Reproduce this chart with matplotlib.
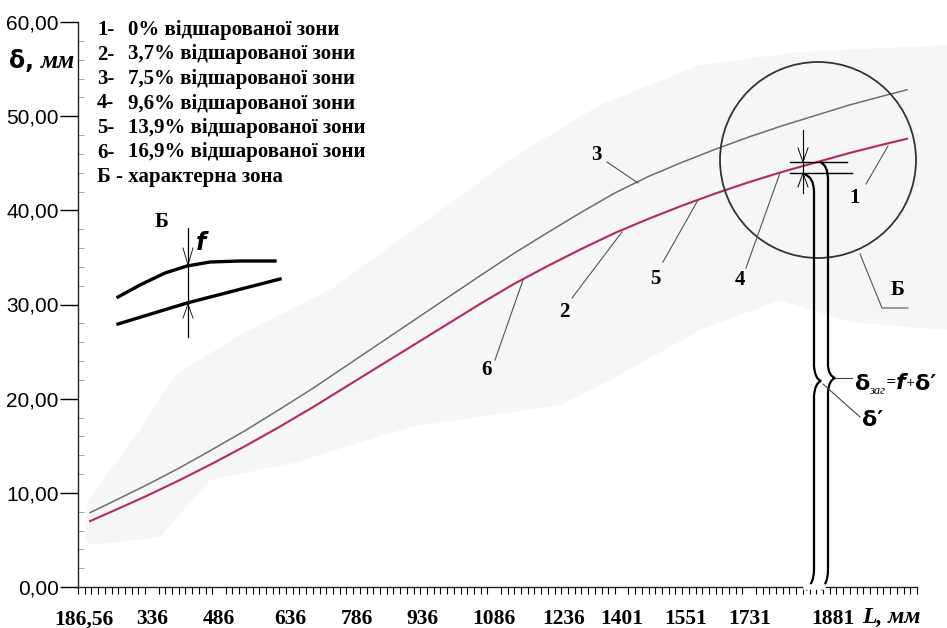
import matplotlib
matplotlib.use('Agg')
import matplotlib.pyplot as plt
from matplotlib.lines import Line2D
from matplotlib.patches import Polygon, Ellipse, PathPatch
from matplotlib.path import Path
from matplotlib.transforms import Affine2D

W, H = 947, 628

# categorical L axis (Excel style): label text and the category index it sits on
x_labels = ['186,56', '336', '486', '636', '786', '936', '1086', '1236',
            '1401', '1551', '1731', '1881']
x_label_pos = [0.9, 11.0, 21.0, 31.6, 41.6, 51.3, 62.0, 72.4, 81.0, 90.5, 100.0, 112.5]
n_cat = 125

# curves 1, 2, 4, 5, 6 lie on top of each other
low_x = [1.8, 5, 10, 15, 20, 25, 30, 35, 40, 45, 50, 55, 60, 65, 70, 75, 80, 85,
         90, 95, 100, 105, 110, 115, 120, 123.5]
low_y = [7.0, 8.0, 9.6, 11.3, 13.1, 15.0, 17.0, 19.1, 21.3, 23.5, 25.7, 27.9, 30.1,
         32.2, 34.1, 35.9, 37.6, 39.1, 40.5, 41.8, 43.0, 44.1, 45.1, 46.1, 47.0, 47.6]

# curve 3
up_x = low_x
up_y = [7.9, 9.0, 10.75, 12.6, 14.6, 16.65, 18.85, 21.1, 23.5, 25.9, 28.3, 30.7, 33.1,
        35.45, 37.65, 39.8, 41.85, 43.6, 45.1, 46.5, 47.8, 49.0, 50.1, 51.2, 52.15, 52.8]

legend_nums = ['1-', '2-', '3-', '4-', '5-', '6-']
legend_text = ['0% відшарованої зони', '3,7% відшарованої зони', '7,5% відшарованої зони',
               '9,6% відшарованої зони', '13,9% відшарованої зони', '16,9% відшарованої зони']
legend_last = 'Б - характерна зона'

serif = 'Liberation Serif'
sans = 'Liberation Sans'

fig = plt.figure(figsize=(W / 100, H / 100), dpi=100)
pix = Affine2D().scale(1, -1).translate(0, H)   # picture pixels, y down


def pline(xs, ys, **kw):
    kw.setdefault('color', 'black')
    kw.setdefault('lw', 1)
    fig.add_artist(Line2D(xs, ys, transform=pix, **kw))


def ptext(x, y, s, **kw):
    kw.setdefault('va', 'center')
    kw.setdefault('ha', 'left')
    fig.text(x, y, s, transform=pix, **kw)


def ppath(verts, codes, **kw):
    fig.add_artist(PathPatch(Path(verts, codes), transform=pix, fill=False, **kw))


# light grey scan background
bg = [(88, 500), (140, 430), (175, 375), (240, 335), (330, 290), (420, 225), (517, 155),
      (600, 105), (700, 65), (800, 52), (947, 45), (947, 330), (850, 322), (780, 300),
      (700, 330), (610, 380), (560, 405), (410, 427), (293, 463), (210, 480), (160, 537),
      (93, 545), (85, 540)]
fig.add_artist(Polygon(bg, closed=True, transform=pix, fc='#f6f6f6', ec='none', zorder=-5))

ax = fig.add_axes([78 / W, 1 - 587 / H, (917 - 78) / W, (587 - 22) / H])
ax.patch.set_alpha(0)
ax.set_xlim(0, n_cat)
ax.set_ylim(0, 60)
for s in ['top', 'right']:
    ax.spines[s].set_visible(False)
for s in ['left', 'bottom']:
    ax.spines[s].set_color('#222222')
    ax.spines[s].set_linewidth(1)

ax.plot(up_x, up_y, color='#6e6e6e', lw=1.1, clip_on=False)
ax.plot(low_x, low_y, color='#dc3a5c', lw=1.6, clip_on=False)
ax.plot(low_x, low_y, color='#2b2a6e', lw=0.6, alpha=0.55, clip_on=False)

yt = list(range(0, 61, 10))
ax.set_yticks(yt)
ax.set_yticklabels([f'{v:.2f}'.replace('.', ',') for v in yt], fontfamily=sans, fontsize=15)
ax.set_yticks(range(0, 61, 2), minor=True)
ax.tick_params(axis='y', which='major', direction='out', length=13, width=1, pad=1)
ax.tick_params(axis='y', which='minor', direction='in', length=4, width=0.6, color='#999999')

ax.set_xticks(x_label_pos)
ax.set_xticklabels(x_labels, fontfamily=serif, fontweight='bold', fontsize=15.5)
ax.set_xticks(range(0, n_cat + 1), minor=True)
ax.tick_params(axis='x', which='major', length=0, pad=16)
ax.tick_params(axis='x', which='minor', direction='out', length=5, width=0.8)

# axis titles
ptext(9, 61, 'δ,', fontfamily='DejaVu Sans', fontweight='bold', fontsize=17)
ptext(41, 62, 'мм', fontfamily=serif, fontweight='bold', fontstyle='italic', fontsize=18)
ptext(862, 617, 'L, мм', fontfamily=serif, fontweight='bold', fontstyle='italic', fontsize=17)

# legend block
lg = dict(fontfamily=serif, fontweight='bold', fontsize=15)
for i, (n, t) in enumerate(zip(legend_nums, legend_text)):
    y = 30 + i * 24.5
    ptext(97, y, n, **lg)
    ptext(128, y, t, **lg)
ptext(97, 30 + 6 * 24.5, legend_last, **lg)

# curve number labels with leaders
lead = dict(color='#555555', lw=0.8)
num = dict(fontfamily=serif, fontweight='bold', fontsize=15, ha='center')
pline([607, 638], [162, 183], **lead); ptext(596, 155, '3', **num)
pline([866, 888], [184, 146], **lead); ptext(855, 198, '1', **num)
pline([746, 780], [268, 173], **lead); ptext(740, 280, '4', **num)
pline([572, 622], [298, 232], **lead); ptext(564, 312, '2', **num)
pline([663, 698], [262, 200], **lead); ptext(655, 279, '5', **num)
pline([495, 523], [360, 280], **lead); ptext(486, 370, '6', **num)
pline([860, 882, 908], [254, 308, 308], **lead); ptext(898, 290, 'Б', **num)

# zone Б circle
fig.add_artist(Ellipse((818, 160), 196, 196, transform=pix, fill=False, ec='#333333', lw=1.3))
pline([803, 803], [130, 193], lw=0.8)
pline([790, 847], [162, 162], lw=1)
pline([790, 852], [173, 173], lw=1)
pline([798, 803, 808], [148, 162, 148], lw=0.7)
pline([798, 803, 808], [187, 173, 187], lw=0.7)

# axis break where the braces come down
pline([806, 823], [587, 587], color='white', lw=4)

# braces
C3, L2, M = Path.CURVE3, Path.LINETO, Path.MOVETO
ppath([(804, 174), (814, 177), (814, 192), (814, 366), (815, 379), (821, 381),
       (815, 383), (814, 396), (814, 570), (814, 583), (806, 590)],
      [M, C3, C3, L2, C3, C3, C3, C3, L2, C3, C3], ec='black', lw=1.6)
ppath([(820, 162), (828, 165), (828, 180), (828, 366), (829, 376), (835, 378),
       (829, 380), (828, 392), (828, 570), (828, 583), (821, 590)],
      [M, C3, C3, L2, C3, C3, C3, C3, L2, C3, C3], ec='black', lw=1.6)

pline([835, 852], [378, 378], color='#444444', lw=0.8)
pline([823, 860], [384, 417], color='#444444', lw=0.8)
ds = dict(fontfamily='DejaVu Sans', fontweight='bold', fontsize=16)
ptext(855, 384, 'δ', **ds)
ptext(869, 391, 'заг', fontfamily=serif, fontstyle='italic', fontsize=9)
ptext(886, 382, '=', fontfamily='DejaVu Sans', fontsize=9)
ptext(896, 383, 'f', fontfamily='DejaVu Sans', fontweight='bold', fontstyle='italic', fontsize=16)
ptext(906, 383, '+', fontfamily='DejaVu Sans', fontsize=8)
ptext(915, 384, 'δ′', **ds)
ptext(862, 420, 'δ′', **ds)

# inset sketch of zone Б
ptext(162, 222, 'Б', **num)
pline([118, 140, 165, 187, 210, 240, 275], [297, 285, 273, 266, 262, 261, 261], lw=2.4)
pline([118, 187, 280], [324, 303, 279], lw=2.4)
pline([188, 188], [228, 337], lw=0.9)
pline([183, 188, 193], [248, 265, 248], lw=0.6)
pline([183, 188, 193], [318, 304, 318], lw=0.6)
ptext(196, 243, 'f', fontfamily='DejaVu Sans', fontweight='bold', fontstyle='italic', fontsize=17)

fig.savefig('out.png', dpi=100)
